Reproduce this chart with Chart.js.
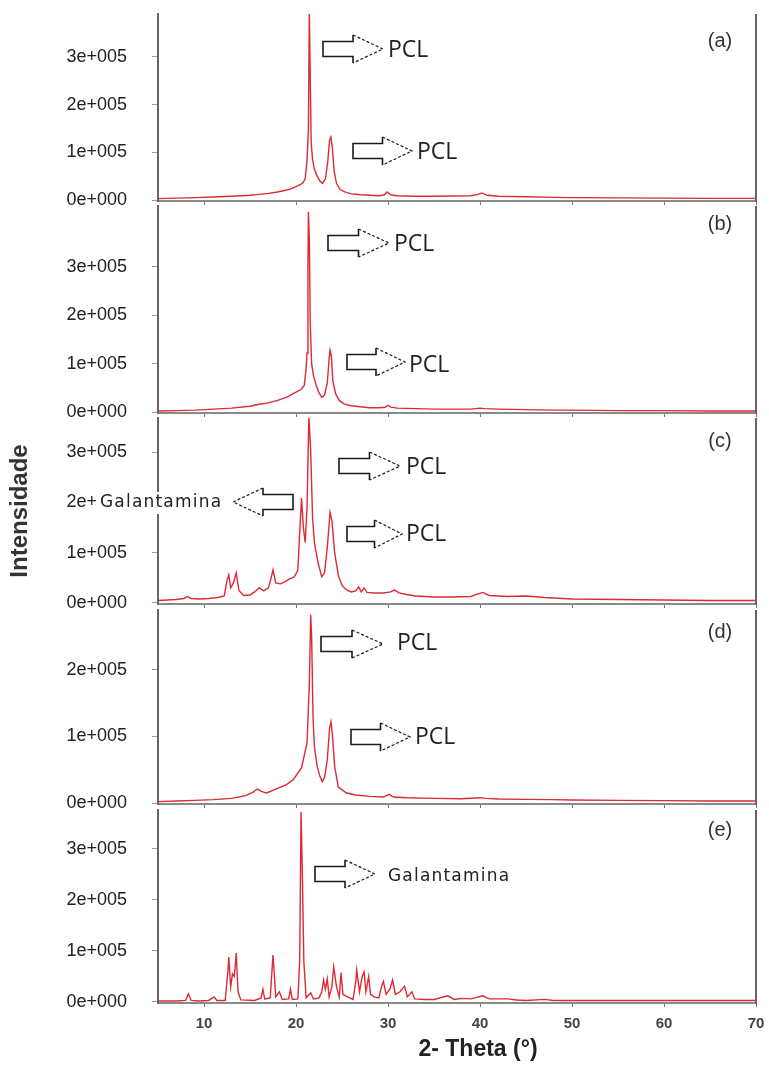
<!DOCTYPE html>
<html>
<head>
<meta charset="utf-8">
<script src="https://cdn.jsdelivr.net/npm/chart.js@4"></script>
<style>
  html, body { margin: 0; padding: 0; background: #fff; }
  #wrap { position: relative; width: 769px; height: 1066px; overflow: hidden; background: #fff; }
  #wrap canvas { position: absolute; left: 0; }
</style>
</head>
<body>
<div id="wrap"></div>
<script>
// 2-theta positions and intensities (counts)
const thetaA = [5, 7, 9, 11, 13, 15, 16, 17, 18, 19, 19.5, 20, 20.5, 20.8, 21.0, 21.2, 21.35, 21.45, 21.55, 21.65, 21.8, 22.0, 22.3, 22.6, 22.9, 23.2, 23.45, 23.65, 23.8, 23.95, 24.15, 24.4, 24.8, 25.3, 26, 27, 28, 29, 29.6, 29.9, 30.3, 31, 33, 35, 37, 39, 39.8, 40.2, 40.8, 42, 45, 48, 50, 55, 60, 65, 70];
const intensityA = [3000, 4000, 5000, 6500, 8000, 10000, 12000, 14000, 17000, 21000, 24000, 28000, 33000, 37000, 45000, 83000, 150000, 400000, 250000, 120000, 85000, 65000, 50000, 40000, 35000, 45000, 80000, 125000, 132000, 110000, 60000, 35000, 22000, 17000, 13000, 11000, 10000, 9000, 11000, 17000, 11000, 9000, 8000, 8000, 8500, 9000, 12000, 15000, 10000, 8000, 7000, 5500, 5000, 4500, 4000, 3500, 3500];

const thetaB = [5, 7, 9, 11, 13, 15, 16, 17, 18, 19, 19.9, 20.5, 20.9, 21.1, 21.2, 21.3, 21.35, 21.45, 21.55, 21.7, 21.9, 22.2, 22.5, 22.8, 23.1, 23.4, 23.6, 23.7, 23.85, 24.0, 24.3, 24.7, 25.2, 26, 27, 28, 29, 29.7, 30.0, 30.3, 31, 33, 35, 37, 39, 40, 40.5, 42, 45, 48, 50, 55, 60, 65, 70];
const intensityB = [2000, 3000, 4000, 6000, 8000, 12000, 16000, 19000, 24000, 31000, 40000, 46000, 55000, 90000, 122000, 300000, 414000, 356000, 180000, 100000, 75000, 55000, 40000, 30000, 35000, 60000, 110000, 128000, 115000, 65000, 38000, 24000, 17000, 13000, 11000, 9000, 9000, 10000, 14000, 10000, 8000, 7000, 6000, 6000, 6000, 8000, 7000, 6000, 5000, 4000, 4000, 3000, 3000, 2000, 2000];

const thetaC = [5, 6, 7, 7.8, 8.2, 8.6, 9.5, 10.5, 11.5, 12.2, 12.5, 12.7, 12.9, 13.2, 13.5, 13.8, 14.3, 15, 15.5, 16, 16.5, 17, 17.3, 17.5, 17.8, 18.3, 18.8, 19.3, 19.8, 20.2, 20.4, 20.6, 20.8, 21.0, 21.2, 21.4, 21.6, 21.8, 22.0, 22.4, 22.8, 23.1, 23.4, 23.7, 23.9, 24.2, 24.6, 25.0, 25.5, 26, 26.5, 26.8, 27.1, 27.4, 27.7, 28.5, 29.5, 30.3, 30.7, 31.2, 32, 33, 34, 35, 37, 39, 39.8, 40.3, 41, 43, 45, 47, 50, 55, 60, 65, 70];
const intensityC = [5000, 6000, 7000, 9000, 13000, 9000, 8000, 9000, 11000, 14000, 45000, 56000, 30000, 40000, 60000, 25000, 15000, 16000, 22000, 30000, 24000, 30000, 50000, 66000, 40000, 38000, 42000, 48000, 52000, 65000, 140000, 209000, 150000, 120000, 190000, 372000, 300000, 170000, 120000, 80000, 52000, 60000, 110000, 180000, 165000, 100000, 55000, 35000, 26000, 22000, 24000, 32000, 22000, 30000, 21000, 20000, 20000, 22000, 26000, 20000, 17000, 14000, 13000, 12000, 12000, 13000, 18000, 21000, 15000, 13000, 14000, 11000, 8000, 7000, 6000, 5000, 5000];

const thetaD = [5, 7, 9, 11, 13, 14.5, 15.3, 15.8, 16.3, 16.8, 18, 19, 19.7, 20.6, 21.2, 21.45, 21.6, 21.7, 21.85, 22.0, 22.3, 22.6, 22.85, 23.1, 23.4, 23.65, 23.8, 23.95, 24.2, 24.6, 25.5, 26.5, 28, 29.5, 30.1, 30.6, 32, 35, 38, 40, 40.6, 42, 45, 48, 50, 55, 60, 65, 70];
const intensityD = [2000, 3000, 4000, 5000, 7000, 11000, 16000, 21000, 17000, 15000, 22000, 28000, 35000, 53000, 90000, 180000, 283000, 250000, 130000, 85000, 55000, 40000, 32000, 38000, 65000, 112000, 122000, 105000, 55000, 24000, 15000, 12000, 10000, 9000, 13000, 9000, 8000, 7000, 6500, 8000, 7000, 6000, 5500, 5000, 4500, 4000, 3500, 3000, 3000];

const thetaE = [5, 7, 8.0, 8.3, 8.6, 9.5, 10.5, 11.1, 11.4, 12.3, 12.6, 12.7, 12.9, 13.1, 13.3, 13.5, 13.7, 14.0, 15.5, 16.2, 16.4, 16.6, 17.2, 17.5, 17.8, 18.2, 18.5, 19.2, 19.4, 19.6, 20.2, 20.4, 20.55, 20.7, 20.85, 21.1, 21.6, 21.9, 22.5, 22.8, 23.0, 23.2, 23.4, 23.6, 23.9, 24.1, 24.4, 24.7, 24.9, 25.1, 25.6, 26.2, 26.5, 26.6, 26.9, 27.2, 27.4, 27.6, 27.9, 28.1, 28.5, 29.0, 29.3, 29.5, 29.8, 30.2, 30.5, 30.8, 31.3, 31.8, 32.1, 32.6, 32.9, 34, 35, 36.5, 37.2, 38, 39, 40.3, 41, 42, 43, 44, 45, 47, 48, 50, 55, 60, 65, 70];
const intensityE = [2000, 2000, 3000, 16000, 3000, 2000, 3000, 10000, 3000, 3000, 60000, 88000, 30000, 55000, 50000, 96000, 20000, 4000, 3000, 8000, 25000, 6000, 8000, 92000, 10000, 20000, 5000, 6000, 25000, 5000, 6000, 80000, 372000, 240000, 80000, 8000, 18000, 6000, 8000, 20000, 43000, 25000, 45000, 10000, 30000, 69000, 30000, 10000, 57000, 15000, 10000, 5000, 40000, 63000, 20000, 50000, 59000, 20000, 50000, 15000, 10000, 8000, 30000, 40000, 15000, 25000, 43000, 15000, 20000, 31000, 10000, 20000, 6000, 5000, 5000, 12000, 5000, 7000, 6000, 12000, 6000, 6000, 6000, 4000, 3000, 5000, 3000, 3000, 3000, 3000, 3000, 3000];

const xTickValues = [10, 20, 30, 40, 50, 60, 70];
const yTicksFull = [0, 100000, 200000, 300000];
const yTicksShort = [0, 100000, 200000];

// page layout: plot area top/bottom for every panel
const PLOT_LEFT = 158, PLOT_RIGHT = 756, PAD_TOP = 6;
const panels = [
  { id: 'a', xs: thetaA, ys: intensityA, top: 14, bottom: 201, min: -2000, max: 390000, ticks: yTicksFull,
    arrows: [[323, 383, 49], [353, 412, 151]],
    texts: [['PCL', 388, 50, 'pcl'], ['PCL', 417, 152, 'pcl']] },
  { id: 'b', xs: thetaB, ys: intensityB, top: 206, bottom: 413, min: -2000, max: 426000, ticks: yTicksFull,
    arrows: [[328, 389, 243], [347, 405, 362]],
    texts: [['PCL', 394, 244, 'pcl'], ['PCL', 409, 365, 'pcl']] },
  { id: 'c', xs: thetaC, ys: intensityC, top: 418, bottom: 604, min: -2000, max: 368000, ticks: yTicksFull,
    arrows: [[339, 400, 466], [347, 402, 534], [293, 233, 502]],
    texts: [['PCL', 406, 467, 'pcl'], ['PCL', 406, 534, 'pcl'], ['Galantamina', 100, 503, 'gal', true]],
    yTitle: 'Intensidade' },
  { id: 'd', xs: thetaD, ys: intensityD, top: 610, bottom: 804, min: -1500, max: 290000, ticks: yTicksShort,
    arrows: [[321, 383, 644], [351, 410, 737]],
    texts: [['PCL', 397, 643, 'pcl'], ['PCL', 415, 737, 'pcl']] },
  { id: 'e', xs: thetaE, ys: intensityE, top: 810, bottom: 1003, min: -2000, max: 376000, ticks: yTicksFull,
    arrows: [[315, 375, 874]],
    texts: [['Galantamina', 388, 877, 'gal']],
    xTitle: '2- Theta (°)', last: true }
];

const labelY = { a: 41, b: 224, c: 441, d: 632, e: 830 };

function fmtSci(v) {
  if (v === 0) return '0e+000';
  return Math.round(v / 100000) + 'e+005';
}

function drawArrow(ctx, tail, tip, cy) {
  const base = tail + (tip - tail) * 0.5;
  const bh = 7.5, hh = 14;
  ctx.save();
  ctx.fillStyle = '#fff';
  ctx.beginPath();
  ctx.moveTo(tail, cy - bh);
  ctx.lineTo(base, cy - bh);
  ctx.lineTo(base, cy - hh);
  ctx.lineTo(tip, cy);
  ctx.lineTo(base, cy + hh);
  ctx.lineTo(base, cy + bh);
  ctx.lineTo(tail, cy + bh);
  ctx.closePath();
  ctx.fill();
  ctx.strokeStyle = '#1a1a1a';
  ctx.lineWidth = 1.6;
  ctx.beginPath();
  ctx.moveTo(base, cy - hh);
  ctx.lineTo(base, cy - bh);
  ctx.lineTo(tail, cy - bh);
  ctx.lineTo(tail, cy + bh);
  ctx.lineTo(base, cy + bh);
  ctx.lineTo(base, cy + hh);
  ctx.stroke();
  ctx.lineWidth = 1.2;
  ctx.setLineDash([3, 2]);
  ctx.beginPath();
  ctx.moveTo(base, cy - hh);
  ctx.lineTo(tip, cy);
  ctx.lineTo(base, cy + hh);
  ctx.stroke();
  ctx.restore();
}

const wrap = document.getElementById('wrap');

panels.forEach(p => {
  const xAxisH = p.last ? 1066 - p.bottom : 6;
  const canvasTop = p.top - PAD_TOP;
  const height = PAD_TOP + (p.bottom - p.top) + xAxisH;
  const canvas = document.createElement('canvas');
  canvas.width = 769;
  canvas.height = height;
  canvas.style.width = '769px';
  canvas.style.height = height + 'px';
  canvas.style.top = canvasTop + 'px';
  wrap.appendChild(canvas);

  const marks = {
    id: 'marks' + p.id,
    afterDraw(chart) {
      const ctx = chart.ctx;
      const area = chart.chartArea;
      // right frame
      ctx.save();
      ctx.strokeStyle = '#666';
      ctx.lineWidth = 2;
      ctx.beginPath();
      ctx.moveTo(area.right, area.top);
      ctx.lineTo(area.right, area.bottom + 1);
      ctx.stroke();
      ctx.restore();

      p.arrows.forEach(a => drawArrow(ctx, a[0], a[1], a[2] - canvasTop));

      p.texts.forEach(t => {
        const [str, x, y, kind, boxed] = t;
        ctx.save();
        if (kind === 'pcl') {
          ctx.font = '23px "Open Sans", "DejaVu Sans", sans-serif';
          ctx.letterSpacing = '0px';
        } else {
          ctx.font = '17px "DejaVu Sans", sans-serif';
          ctx.letterSpacing = '1.2px';
        }
        ctx.textBaseline = 'middle';
        ctx.textAlign = 'left';
        if (boxed) {
          const w = ctx.measureText(str).width;
          ctx.fillStyle = '#fff';
          ctx.fillRect(x - 4, y - canvasTop - 11, w + 8, 22);
        }
        ctx.fillStyle = '#222';
        ctx.fillText(str, x, y - canvasTop);
        ctx.restore();
      });

      ctx.save();
      ctx.font = '20px "Liberation Sans", Arial, sans-serif';
      ctx.fillStyle = '#333';
      ctx.textAlign = 'center';
      ctx.textBaseline = 'middle';
      ctx.fillText('(' + p.id + ')', 720, labelY[p.id] - canvasTop);
      if (p.xTitle) {
        ctx.font = 'bold 23px "Liberation Sans", Arial, sans-serif';
        ctx.fillStyle = '#222';
        ctx.fillText(p.xTitle, 478, 1050 - canvasTop);
      }
      ctx.restore();
    }
  };

  new Chart(canvas, {
    type: 'line',
    data: {
      datasets: [{
        data: p.xs.map((x, i) => ({ x: x, y: p.ys[i] })),
        borderColor: '#dd2a35',
        borderWidth: 1.4,
        pointRadius: 0,
        tension: 0,
        fill: false
      }]
    },
    options: {
      responsive: false,
      animation: false,
      events: [],
      layout: { padding: { top: PAD_TOP, left: 0, right: 769 - PLOT_RIGHT, bottom: 0 } },
      plugins: { legend: { display: false }, tooltip: { enabled: false } },
      scales: {
        x: {
          type: 'linear',
          min: 5,
          max: 70,
          afterBuildTicks: s => { s.ticks = xTickValues.map(v => ({ value: v })); },
          afterFit: s => { s.height = xAxisH; s.paddingLeft = 0; s.paddingRight = 0; },
          border: { display: true, color: '#8a8a8a', width: 2 },
          grid: { drawOnChartArea: false, drawTicks: true, tickLength: 4, color: '#777' },
          ticks: {
            display: !!p.last,
            padding: 8,
            maxRotation: 0,
            color: '#444',
            font: { family: '"Liberation Sans", Arial, sans-serif', size: 15, weight: 'bold' }
          }
        },
        y: {
          type: 'linear',
          min: p.min,
          max: p.max,
          afterBuildTicks: s => { s.ticks = p.ticks.map(v => ({ value: v })); },
          afterFit: s => { s.width = PLOT_LEFT; s.paddingTop = 0; s.paddingBottom = 0; },
          border: { display: true, color: '#666', width: 2 },
          grid: { drawOnChartArea: false, drawTicks: true, tickLength: 6, color: '#999' },
          ticks: {
            padding: 25,
            color: '#222',
            callback: v => fmtSci(v),
            font: { family: '"Liberation Sans", Arial, sans-serif', size: 18 }
          },
          title: {
            display: !!p.yTitle,
            text: p.yTitle || '',
            color: '#333',
            padding: { top: 6, bottom: 0 },
            font: { family: '"Liberation Sans", Arial, sans-serif', size: 24, weight: 'bold' }
          }
        }
      }
    },
    plugins: [marks]
  });
});
</script>
</body>
</html>
